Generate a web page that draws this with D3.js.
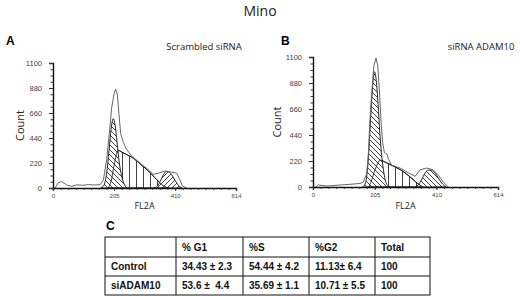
<!DOCTYPE html>
<html>
<head>
<meta charset="utf-8">
<script src="https://cdn.jsdelivr.net/npm/d3@7"></script>
<style>
  body { margin: 0; background: #fff; }
  svg { display: block; }
</style>
</head>
<body>
<div class="container"></div>
<script>
/* Params */
const width = 520;
const height = 296;

/* Data */
const xTicks = [0, 205, 410, 614];
const yTicks = [0, 220, 440, 660, 880, 1100];

// Panel A: Scrambled siRNA  [FL2A, count]
const rawA = [[7, 0], [18, 47], [29, 56], [46, 26], [63, 15], [80, 28], [100, 24], [120, 30], [140, 26], [158, 30],
  [169, 70], [180, 250], [189, 480], [197, 710], [205, 830], [210, 870], [216, 820], [221, 660], [227, 480],
  [236, 400], [247, 340], [264, 280], [292, 220], [320, 160], [336, 120], [353, 130], [376, 150], [398, 140],
  [415, 130], [426, 70], [435, 15], [449, 0]];
const g1A = [[160, 0], [170, 20], [180, 130], [188, 330], [195, 520], [202, 610], [208, 560], [215, 400],
  [222, 230], [230, 110], [238, 40], [248, 0]];
const sA = [[185, 0], [195, 60], [205, 200], [212, 290], [219, 330], [235, 310], [250, 290], [265, 270],
  [280, 240], [300, 195], [320, 150], [340, 95], [355, 55], [370, 20], [390, 0]];
const g2A = [[340, 0], [350, 15], [360, 60], [370, 115], [380, 145], [390, 140], [400, 110], [410, 65],
  [420, 25], [432, 0]];

// Panel B: siRNA ADAM10
const rawB = [[10, 0], [18, 17], [45, 8], [90, 17], [120, 22], [156, 30], [167, 42], [178, 110], [184, 290],
  [189, 570], [195, 800], [202, 1025], [209, 1090], [215, 1025], [220, 830], [226, 550], [231, 380],
  [237, 290], [245, 280], [250, 240], [261, 185], [289, 160], [316, 120], [339, 90], [355, 145],
  [377, 160], [399, 145], [416, 100], [433, 40], [449, 0]];
const g1B = [[165, 0], [175, 40], [183, 220], [190, 520], [197, 820], [204, 975], [210, 900], [216, 700],
  [222, 450], [230, 220], [238, 80], [248, 10], [255, 0]];
const sB = [[185, 0], [195, 60], [205, 140], [215, 200], [222, 228], [240, 210], [260, 185], [280, 160],
  [300, 130], [320, 90], [340, 45], [355, 15], [365, 0]];
const g2B = [[340, 0], [350, 20], [360, 60], [370, 110], [380, 140], [390, 145], [400, 130], [410, 100],
  [420, 60], [430, 25], [442, 0]];

// Table C
const tableHeader = ['', '% G1', '%S', '%G2', 'Total'];
const tableRows = [
  ['Control', '34.43 ± 2.3', '54.44 ± 4.2', '11.13± 6.4', '100'],
  ['siADAM10', '53.6 ±  4.4', '35.69 ± 1.1', '10.71 ± 5.5', '100']
];

/* Layout */
const panels = [
  { letter: 'A', label: 'Scrambled siRNA', raw: rawA, g1: g1A, s: sA, g2: g2A, g2Hatch: 'hatchFwd',
    x0: 53, x1: 236, y0: 188, y1: 63, labelX: 204, countX: 24, letterX: 6 },
  { letter: 'B', label: 'siRNA ADAM10', raw: rawB, g1: g1B, s: sB, g2: g2B, g2Hatch: 'hatchBack',
    x0: 313, x1: 498, y0: 187, y1: 57, labelX: 481, countX: 281, letterX: 281 }
];
const font = "'Liberation Sans', Arial, sans-serif";
const labelFont = "'Open Sans', 'Noto Sans', sans-serif";

const svg = d3.select('.container')
  .append('svg')
  .attr('width', width)
  .attr('height', height)
  .style('background', '#fff');

/* Hatch patterns */
const defs = svg.append('defs');
function hatch(id, w, path) {
  defs.append('pattern')
    .attr('id', id)
    .attr('patternUnits', 'userSpaceOnUse')
    .attr('width', w).attr('height', w)
    .append('path')
    .attr('d', path)
    .attr('stroke', '#111')
    .attr('stroke-width', 0.8)
    .attr('fill', 'none');
}
hatch('hatchBack', 5, 'M-1,-1L6,6M-1,4L1,6M4,-1L6,1');
hatch('hatchFwd', 5, 'M-1,6L6,-1M-1,1L1,-1M4,6L6,4');
hatch('hatchVert', 7, 'M3.5,0L3.5,7');

svg.append('text')
  .attr('x', 260).attr('y', 16)
  .attr('text-anchor', 'middle')
  .attr('font-family', labelFont)
  .attr('font-size', 14)
  .attr('fill', '#222')
  .text('Mino');

function drawPanel(p) {
  const x = d3.scaleLinear().domain([0, 614]).range([p.x0, p.x1]);
  const y = d3.scaleLinear().domain([0, 1100]).range([p.y0, p.y1]);
  const g = svg.append('g');

  const area = d3.area().x(d => x(d[0])).y0(y(0)).y1(d => y(d[1])).curve(d3.curveMonotoneX);
  const line = d3.line().x(d => x(d[0])).y(d => y(d[1])).curve(d3.curveLinear);

  // S phase, then G1 and G2 over it
  g.append('path').datum(p.s).attr('d', area)
    .attr('fill', 'url(#hatchVert)').attr('stroke', '#111').attr('stroke-width', 0.9);
  g.append('path').datum(p.g2).attr('d', area)
    .attr('fill', '#fff').attr('stroke', 'none');
  g.append('path').datum(p.g2).attr('d', area)
    .attr('fill', `url(#${p.g2Hatch})`).attr('stroke', '#111').attr('stroke-width', 0.9);
  g.append('path').datum(p.g1).attr('d', area)
    .attr('fill', '#fff').attr('stroke', 'none');
  g.append('path').datum(p.g1).attr('d', area)
    .attr('fill', 'url(#hatchBack)').attr('stroke', '#111').attr('stroke-width', 0.9);
  g.append('path').datum(p.s).attr('d', area)
    .attr('fill', 'none').attr('stroke', '#111').attr('stroke-width', 0.8);

  // raw histogram
  g.append('path').datum(p.raw).attr('d', line)
    .attr('fill', 'none').attr('stroke', '#666').attr('stroke-width', 1);

  // y axis
  const yAxis = g.append('g').attr('transform', `translate(${p.x0},0)`)
    .call(d3.axisLeft(y).tickValues(yTicks).tickSize(4).tickFormat(d3.format('d')));
  yAxis.selectAll('text').attr('font-family', font).attr('font-size', 7.5).attr('fill', '#444').attr('dx', -4);
  g.append('g').attr('transform', `translate(${p.x0},0)`)
    .call(d3.axisLeft(y).tickValues(d3.range(0, 1101, 55)).tickSize(2.5).tickFormat(''))
    .select('.domain').remove();

  // x axis
  const xAxis = g.append('g').attr('transform', `translate(0,${p.y0})`)
    .call(d3.axisBottom(x).tickValues(xTicks).tickSize(3).tickFormat(d3.format('d')));
  xAxis.selectAll('text').attr('font-family', font).attr('font-size', 6).attr('fill', '#444');
  g.append('g').attr('transform', `translate(0,${p.y0})`)
    .call(d3.axisBottom(x).tickValues(d3.range(0, 615, 25.6)).tickSize(2).tickFormat(''))
    .select('.domain').remove();
  g.selectAll('.domain').attr('stroke', '#111').attr('stroke-width', 1.4);
  g.selectAll('.tick line').attr('stroke', '#333');

  g.append('text')
    .attr('x', p.letterX).attr('y', 45)
    .attr('font-family', font).attr('font-weight', 'bold').attr('font-size', 12)
    .text(p.letter);
  g.append('text')
    .attr('x', p.labelX).attr('y', 50)
    .attr('text-anchor', 'middle')
    .attr('font-family', labelFont).attr('font-size', 9.5).attr('fill', '#222')
    .text(p.label);
  g.append('text')
    .attr('transform', `translate(${p.countX},${(p.y0 + p.y1) / 2}) rotate(-90)`)
    .attr('text-anchor', 'middle')
    .attr('font-family', labelFont).attr('font-size', 11).attr('fill', '#222')
    .text('Count');
  g.append('text')
    .attr('x', x(307)).attr('y', 209)
    .attr('text-anchor', 'middle')
    .attr('font-family', labelFont).attr('font-size', 9).attr('fill', '#222')
    .text('FL2A');
}
panels.forEach(drawPanel);

/* Table C */
const colEdges = [105, 176, 243, 309, 375, 430];
const rowEdges = [237, 257, 276, 295];
svg.append('text')
  .attr('x', 106).attr('y', 230)
  .attr('font-family', font).attr('font-weight', 'bold').attr('font-size', 12)
  .text('C');
const table = svg.append('g');
table.append('rect')
  .attr('x', colEdges[0]).attr('y', rowEdges[0])
  .attr('width', colEdges[5] - colEdges[0]).attr('height', rowEdges[3] - rowEdges[0])
  .attr('fill', 'none').attr('stroke', '#111');
colEdges.slice(1, -1).forEach(cx => table.append('line')
  .attr('x1', cx).attr('x2', cx).attr('y1', rowEdges[0]).attr('y2', rowEdges[3]).attr('stroke', '#111'));
rowEdges.slice(1, -1).forEach(ry => table.append('line')
  .attr('x1', colEdges[0]).attr('x2', colEdges[5]).attr('y1', ry).attr('y2', ry).attr('stroke', '#111'));
[tableHeader].concat(tableRows).forEach((row, ri) => {
  row.forEach((cell, ci) => {
    table.append('text')
      .attr('x', colEdges[ci] + 6)
      .attr('y', (rowEdges[ri] + rowEdges[ri + 1]) / 2 + 3.5)
      .attr('font-family', font).attr('font-weight', 'bold').attr('font-size', 10)
      .attr('fill', '#111')
      .attr('xml:space', 'preserve')
      .style('white-space', 'pre')
      .text(cell);
  });
});
</script>
</body>
</html>
